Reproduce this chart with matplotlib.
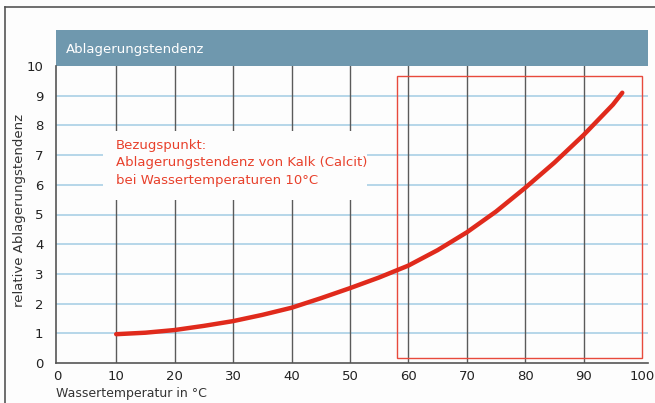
import matplotlib.pyplot as plt
from matplotlib.patches import Rectangle

# values
temps = [10, 15, 20, 25, 30, 35, 40, 45, 50, 55, 60, 65, 70, 75, 80, 85, 90, 95, 96.6]
tendency = [0.97, 1.02, 1.11, 1.25, 1.41, 1.62, 1.86, 2.18, 2.52, 2.88, 3.28,
            3.8, 4.4, 5.1, 5.9, 6.75, 7.68, 8.7, 9.1]
x_ticks = [0, 10, 20, 30, 40, 50, 60, 70, 80, 90, 100]
y_ticks = [0, 1, 2, 3, 4, 5, 6, 7, 8, 9, 10]

W, H = 655, 403
fig = plt.figure(figsize=(W / 100, H / 100), dpi=100)
fig.patch.set_facecolor('#fdfdfd')

def box(l, t, r, b):
    return [l / W, 1 - b / H, (r - l) / W, (b - t) / H]

# outer frame lines (top and left)
fig.add_artist(plt.Line2D([5 / W, 1], [1 - 7 / H] * 2, color='#555555', lw=1.2))
fig.add_artist(plt.Line2D([5 / W] * 2, [0, 1 - 7 / H], color='#555555', lw=1.2))

# header bar
hdr = fig.add_axes(box(56, 30, 648, 68))
hdr.set_facecolor('#6f98ae')
hdr.set_xticks([])
hdr.set_yticks([])
for s in hdr.spines.values():
    s.set_visible(False)
hdr.text(0.017, 0.5, 'Ablagerungstendenz', color='white', fontsize=9.5,
         va='center', ha='left', transform=hdr.transAxes)

ax = fig.add_axes(box(56, 66, 648, 363))
ax.set_facecolor('#fdfdfd')
ax.set_xlim(-0.3, 101)
ax.set_ylim(0, 10)

for y in y_ticks[1:-1]:
    ax.axhline(y, color='#a9d0e6', lw=1.2, zorder=1)
for x in x_ticks[1:-1]:
    ax.axvline(x, color='#5a5a5a', lw=1.0, zorder=1)

# white box behind the annotation
ax.add_patch(Rectangle((7.7, 5.5), 45.3, 2.3, facecolor='#fdfdfd',
                       edgecolor='none', zorder=2))
ax.text(10, 7.55, 'Bezugspunkt:\nAblagerungstendenz von Kalk (Calcit)\nbei Wassertemperaturen 10°C',
        color='#e8412c', fontsize=9.5, va='top', ha='left', linespacing=1.45, zorder=3)

# red frame around the high-temperature area
ax.add_patch(Rectangle((58, 0.17), 42, 9.5, facecolor='none',
                       edgecolor='#e84a3c', lw=1.0, zorder=3))

ax.plot(temps, tendency, color='#e02a1c', lw=3.2, solid_capstyle='round',
        solid_joinstyle='round', zorder=4)

ax.set_xticks(x_ticks)
ax.set_yticks(y_ticks)
ax.tick_params(axis='x', length=0, labelsize=9.5, colors='#222222', pad=5)
ax.tick_params(axis='y', length=0, labelsize=9.5, colors='#222222', pad=9)
for s in ['top', 'right']:
    ax.spines[s].set_visible(False)
for s in ['left', 'bottom']:
    ax.spines[s].set_color('#555555')
    ax.spines[s].set_linewidth(1.2)

fig.text(20 / W, 1 - 210 / H, 'relative Ablagerungstendenz', fontsize=9.5,
         color='#333333', rotation=90, ha='center', va='center')
fig.text(56 / W, 1 - 393 / H, 'Wassertemperatur in °C', fontsize=9, color='#333333',
         ha='left', va='center')

fig.savefig('out.png', dpi=100, facecolor=fig.get_facecolor())
